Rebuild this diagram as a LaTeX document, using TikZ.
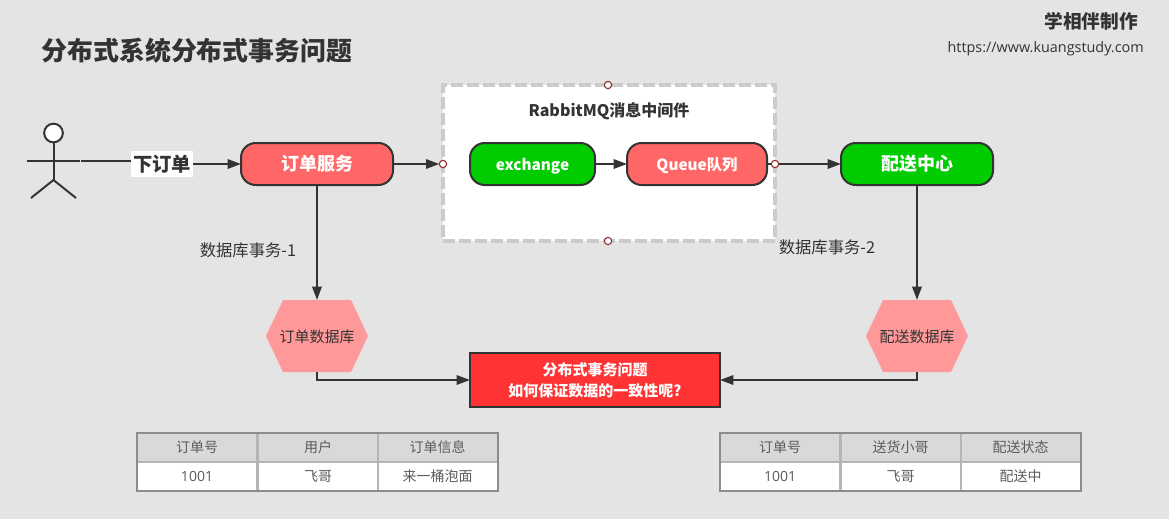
\documentclass[tikz,border=0pt]{standalone}
\usepackage{fontspec}
\setmainfont{Noto Sans CJK SC}
\newfontfamily\latinfont{Open Sans}
\usetikzlibrary{arrows.meta}
\definecolor{bgcol}{HTML}{E4E4E4}
\definecolor{inkcol}{HTML}{333333}
\definecolor{redcol}{HTML}{FF6666}
\definecolor{greencol}{HTML}{00CC00}
\definecolor{hexcol}{HTML}{FF9999}
\definecolor{alarmcol}{HTML}{FF3333}
\definecolor{portcol}{HTML}{8B2B2B}
\definecolor{cellline}{HTML}{B5B5B5}
\definecolor{headcol}{HTML}{D9D9D9}
\definecolor{frameline}{HTML}{8C8C8C}
\tikzset{
  flow/.style = {draw=inkcol, line width=1.5pt, -{Triangle[length=10pt,width=7pt]}},
  pill/.style = {draw=inkcol, line width=1.5pt, rounded corners=11pt, minimum height=31.5pt, inner sep=0, outer sep=0, text=white, text height=10pt, text depth=0pt},
  port/.style = {draw=portcol, fill=white, circle, line width=.8pt, minimum size=5.5pt, inner sep=0, outer sep=0},
  cell/.style = {draw=cellline, line width=1.5pt, minimum width=90pt, minimum height=21.75pt, inner sep=0, outer sep=0, font=\fontsize{10.5}{12}\selectfont, text=inkcol!80!white},
  head/.style = {cell, fill=headcol},
  body/.style = {cell, fill=white},
  frame/.style = {draw=frameline, line width=1.5pt},
}
% hexagon with a plain node on top for the connectors
\newcommand\hexdb[4]{
  \fill[hexcol] (#2-51,#3) -- (#2-34,#3-36) -- (#2+34,#3-36) -- (#2+51,#3) -- (#2+34,#3+36) -- (#2-34,#3+36) -- cycle;
  \node[minimum width=76.5pt, minimum height=54pt, inner sep=0, outer sep=0, text height=10pt, text depth=0pt, text=inkcol, font=\fontsize{11.25}{13}\selectfont] (#1) at (#2,#3) {#4};
}

\begin{document}
\begin{tikzpicture}[x=.75pt, y=-.75pt]
	\useasboundingbox (0,0) rectangle (1169,519);
	\fill[bgcol] (0,0) rectangle (1169,519);

	\node[anchor=west, inner sep=0, text=inkcol, font=\fontsize{19.4}{22}\bfseries\selectfont] (title) at (41.5,51) {分布式系统分布式事务问题};
	\node[anchor=east, inner sep=0, text=inkcol, font=\fontsize{14}{16}\bfseries\selectfont] (maker) at (1138,21) {学相伴制作};
	\node[anchor=east, inner sep=0, text=inkcol, font=\fontsize{10.8}{12}\latinfont\selectfont] (site) at (1144,49) {https://www.kuangstudy.com};

	% actor
	\draw[inkcol, line width=1.5pt] (53.5,143) -- (53.5,180);
	\draw[inkcol, line width=1.5pt] (27,161) -- (80,161);
	\draw[inkcol, line width=1.5pt] (31,198) -- (53.5,180) -- (76,198);
	\node[draw=inkcol, fill=white, circle, line width=1.5pt, minimum size=14pt, inner sep=0] (head) at (53.5,133) {};
	\coordinate (hand) at (81,161);
	\coordinate (bend) at (162,164);

	% middleware
	\node[draw=frameline!45!white, fill=white, line width=2.5pt, dash pattern=on 9pt off 3pt, minimum width=249pt, minimum height=117pt, inner sep=0, outer sep=0] (mq) at (609,163) {};
	\node[inner sep=0, text=inkcol, font=\fontsize{12}{14}\bfseries\selectfont] (mqtitle) at (609,111) {RabbitMQ消息中间件};

	\node[pill, fill=redcol, minimum width=114pt, font=\fontsize{13.5}{16}\bfseries\selectfont] (order) at (317,164) {订单服务};
	\node[pill, fill=greencol, minimum width=93.75pt, font=\fontsize{11.5}{14}\bfseries\selectfont] (exchange) at (532.5,164) {exchange};
	\node[pill, fill=redcol, minimum width=105pt, font=\fontsize{11.5}{14}\bfseries\selectfont] (queue) at (697,164) {Queue队列};
	\node[pill, fill=greencol, minimum width=114pt, font=\fontsize{13.5}{16}\bfseries\selectfont] (delivery) at (917,164) {配送中心};

	\node[port] (portw) at (443,164) {};
	\node[port] (porte) at (775,164) {};
	\node[port] (portn) at (608,85) {};
	\node[port] (ports) at (608,241) {};

	\hexdb{orderdb}{317}{336}{订单数据库}
	\hexdb{deliverydb}{917}{336}{配送数据库}

	\node[draw=inkcol, fill=alarmcol, line width=1.5pt, minimum width=187.5pt, minimum height=40.5pt, inner sep=0, outer sep=0, align=center, text=white, font=\fontsize{11.25}{15.75}\bfseries\selectfont] (issue) at (595,380) {分布式事务问题\\如何保证数据的一致性呢?};

	% connectors
	\draw[flow] (hand) -- (bend |- hand) -- (bend) -- (order.west);
	\node[fill=white, inner sep=0, minimum width=46.5pt, minimum height=20pt, text height=10.5pt, text depth=0pt, text=inkcol, font=\fontsize{14.5}{16}\bfseries\selectfont] (orderlabel) at (bend) {下订单};
	\draw[flow] (order.east) -- (portw.west);
	\draw[flow] (exchange) -- (queue);
	\draw[flow, -] (queue.east) -- (porte.west);
	\draw[flow] (porte.east) -- (delivery.west);
	\draw[flow] (order.south) -- (orderdb.north);
	\draw[flow] (delivery.south) -- (deliverydb.north);
	\draw[flow] (orderdb.south) |- (issue.west);
	\draw[flow] (deliverydb.south) |- (issue.east);

	\node[text=inkcol, inner sep=0, font=\fontsize{12.25}{14}\selectfont] (tx1) at (248,250) {数据库事务-1};
	\node[text=inkcol, inner sep=0, font=\fontsize{12.25}{14}\selectfont] (tx2) at (827,247) {数据库事务-2};

	% left table
	\node[head] (la) at (197,447.5) {订单号};
	\node[head] (lb) at (318,447.5) {用户};
	\node[head] (lc) at (437.5,447.5) {订单信息};
	\node[body] (ld) at (197,476.5) {\latinfont 1001};
	\node[body] (le) at (318,476.5) {飞哥};
	\node[body] (lf) at (437.5,476.5) {来一桶泡面};
	\draw[frame] (la.north west) rectangle (lf.south east);

	% right table
	\node[head] (ra) at (780,447.5) {订单号};
	\node[head] (rb) at (900.5,447.5) {送货小哥};
	\node[head] (rc) at (1020.5,447.5) {配送状态};
	\node[body] (rd) at (780,476.5) {\latinfont 1001};
	\node[body] (re) at (900.5,476.5) {飞哥};
	\node[body] (rf) at (1020.5,476.5) {配送中};
	\draw[frame] (ra.north west) rectangle (rf.south east);
\end{tikzpicture}
\end{document}
